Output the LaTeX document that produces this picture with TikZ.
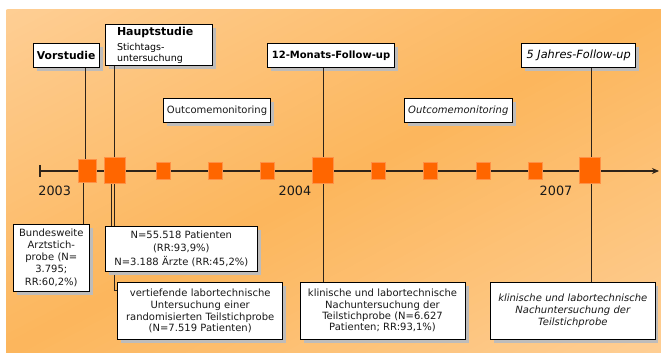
\documentclass[tikz,border=0pt]{standalone}
\usepackage{fontspec}
\setmainfont{DejaVu Sans}
\usetikzlibrary{shadows,arrows.meta}

\definecolor{peachlight}{RGB}{254,206,148}
\definecolor{peachdark}{RGB}{252,182,92}
\definecolor{markfill}{RGB}{255,102,0}
\definecolor{markedge}{RGB}{255,145,70}
\definecolor{shadowgray}{RGB}{190,188,186}
\definecolor{inkline}{RGB}{45,35,25}
\definecolor{txtgray}{RGB}{25,25,25}

\tikzset{
  infobox/.style={draw=black, line width=0.9pt, fill=white, inner sep=2pt,
    align=center, text=txtgray,
    font=\fontsize{10}{12.1}\selectfont,
    drop shadow={shadow xshift=3.5pt, shadow yshift=-3.5pt, fill=shadowgray, opacity=1}},
  titlebox/.style={infobox, text=black},
  bigmark/.style={draw=markedge, line width=0.7pt, fill=markfill, minimum width=21pt, minimum height=26pt, inner sep=0pt},
  smallmark/.style={draw=markedge, line width=0.7pt, fill=markfill, minimum width=14pt, minimum height=17pt, inner sep=0pt},
  conn/.style={draw=inkline, line width=0.9pt},
  yearlabel/.style={font=\fontsize{12.8}{14}\selectfont, text=txtgray, inner sep=0pt},
}

\begin{document}
\begin{tikzpicture}[x=1pt, y=-1pt]
  \useasboundingbox (0,0) rectangle (661,355);

  % background panel: diagonal bands, light in the top-left and bottom-right
  % corners, deeper orange along the other diagonal
  \begin{scope}
    \clip (6,10) rectangle (661,352);
    \foreach \i in {0,...,79}{
      \pgfmathsetmacro\sa{\i/40}
      \pgfmathsetmacro\sb{(\i+1)/40+0.004}
      \pgfmathsetmacro\mixv{100*abs(\i+0.5-40)/40}
      \fill[peachlight!\mixv!peachdark]
        ({6+(\sa+1)*655},-332) -- ({6+(\sb+1)*655},-332) --
        ({6+(\sb-2)*655},694) -- ({6+(\sa-2)*655},694) -- cycle;
    }
  \end{scope}

  % timeline
  \coordinate (tl0) at (40,171);
  \coordinate (tl1) at (659,171);
  \coordinate (tick0) at (40,165);
  \coordinate (tick1) at (40,177);
  \draw[conn, line width=1.1pt, -{Stealth[length=7pt,width=6pt]}] (tl0) -- (tl1);
  \draw[conn, line width=1.1pt] (tick0) -- (tick1);

  % boxes above the timeline
  \node[titlebox, minimum width=65.7pt, minimum height=24.4pt, font=\fontsize{10.8}{12}\selectfont\bfseries] (vor) at (66.2,55.5) {Vorstudie};
  \node[titlebox, minimum height=40pt, text width=83.6pt, inner xsep=11.7pt, align=left,
        font=\fontsize{9.5}{11.6}\selectfont] (haupt) at (158.8,45.3)
        {{\fontsize{11}{11.6}\selectfont\bfseries\color{black}Hauptstudie}\\[3.2pt]Stichtags-\\untersuchung};
  \node[infobox, minimum width=107.4pt, minimum height=24pt] (out1) at (217,110.7) {Outcomemonitoring};
  \node[titlebox, minimum width=126.6pt, minimum height=24.4pt, font=\fontsize{10}{12}\selectfont\bfseries] (twelve) at (331,55.5) {12-Monats-Follow-up};
  \node[infobox, minimum width=108pt, minimum height=24pt, font=\fontsize{10}{12}\selectfont\itshape] (out2) at (458.3,110.7) {Outcomemonitoring};
  \node[titlebox, minimum width=114pt, minimum height=24.4pt, font=\fontsize{11.3}{12}\selectfont\itshape] (five) at (578.7,55.5) {5 Jahres-Follow-up};

  % connector coordinates on the timeline
  \coordinate (cv) at (85.5,171);
  \coordinate (cvb) at (83.5,171);
  \coordinate (ch) at (114.7,171);
  \coordinate (chn) at (111.5,171);
  \coordinate (chv) at (114.2,171);
  \coordinate (chk) at (114.2,290);
  \coordinate (c12) at (323.3,171);
  \coordinate (c5) at (591.7,171);

  % elbow to the sample box, partly hidden behind the box above it
  \draw[conn] (chv) -- (chk) -- (chk -| 118,0);

  % boxes below the timeline
  \node[infobox, minimum width=76pt, minimum height=66.7pt, text width=72pt] (bund) at (51.3,257.7)
    {Bundesweite\\Arztstich-\\probe (N=\\3.795;\\RR:60,2\%)};
  \node[infobox, minimum width=152pt, minimum height=45pt, text width=148pt] (nbox) at (181.3,249.2)
    {N=55.518 Patienten\\(RR:93,9\%)\\[2.6pt]N=3.188 Ärzte (RR:45,2\%)};
  \node[infobox, minimum width=165pt, minimum height=56.6pt, text width=161pt, font=\fontsize{10}{11.9}\selectfont] (vert) at (200.2,311)
    {vertiefende labortechnische\\Untersuchung einer\\randomisierten Teilstichprobe\\(N=7.519 Patienten)};
  \node[infobox, minimum width=165pt, minimum height=57.3pt, text width=161pt, font=\fontsize{10}{11.3}\selectfont] (klin) at (382.5,310.7)
    {klinische und labortechnische\\Nachuntersuchung der\\Teilstichprobe (N=6.627\\Patienten; RR:93,1\%)};
  \node[infobox, minimum width=164.3pt, minimum height=57pt, text width=160pt, font=\fontsize{10}{12.2}\selectfont\itshape] (klinf) at (572.8,310.8)
    {klinische und labortechnische\\Nachuntersuchung der\\Teilstichprobe};

  % vertical connectors
  \draw[conn] (vor.south -| cv) -- (cv);
  \draw[conn] (cvb) -- (bund.north -| cvb);
  \draw[conn] (haupt.south -| ch) -- (ch);
  \draw[conn] (chn) -- (nbox.north -| chn);
  \draw[conn] (twelve.south -| c12) -- (c12) -- (klin.north -| c12);
  \draw[conn] (five.south -| c5) -- (c5) -- (klinf.north -| c5);

  % markers on the timeline
  \node[bigmark, minimum width=18pt, minimum height=23pt] (m0) at (87,170.5) {};
  \node[bigmark] (m1) at (114.5,170) {};
  \node[smallmark] (m2) at (163,170.5) {};
  \node[smallmark] (m3) at (215.5,170.5) {};
  \node[smallmark] (m4) at (267.5,170.5) {};
  \node[bigmark] (m5) at (322.5,170) {};
  \node[smallmark] (m6) at (378.5,170.5) {};
  \node[smallmark] (m7) at (430,170.5) {};
  \node[smallmark] (m8) at (483,170.5) {};
  \node[smallmark] (m9) at (535,170.5) {};
  \node[bigmark] (m10) at (590,170) {};

  % year labels
  \node[yearlabel] (y2003) at (54.7,190.7) {2003};
  \node[yearlabel] (y2004) at (295,190.7) {2004};
  \node[yearlabel] (y2007) at (556,190.7) {2007};
\end{tikzpicture}
\end{document}
